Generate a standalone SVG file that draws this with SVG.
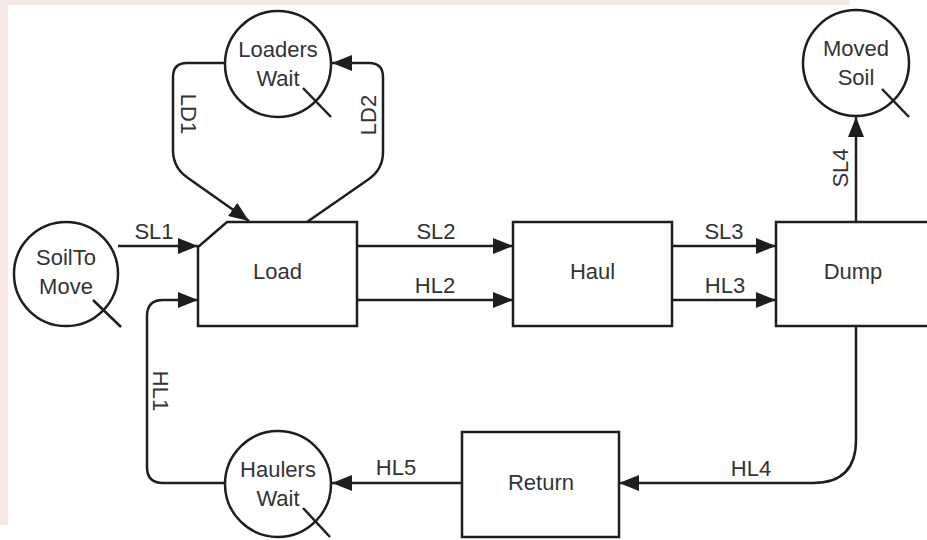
<svg xmlns="http://www.w3.org/2000/svg" width="927" height="540" viewBox="0 0 927 540">
<style>
.bg{fill:#ffffff}
.tint{fill:#f8e8e6}
.node{fill:#ffffff;stroke:#1e1e1e;stroke-width:2.5}
.strike{stroke:#1e1e1e;stroke-width:2.5;fill:none}
.conn{fill:none;stroke:#1e1e1e;stroke-width:2.5}
text{font-family:"Liberation Sans",Arial,sans-serif;font-size:22px;fill:#333333}
.c{text-anchor:middle}
</style>
<defs>
<marker id="arr" markerUnits="userSpaceOnUse" markerWidth="22" markerHeight="18" refX="20" refY="8" orient="auto">
<path d="M0,0 L20,8 L0,16 Z" fill="#1e1e1e"/>
</marker>
</defs>
<rect class="bg" x="0" y="0" width="927" height="540"/>
<rect class="tint" x="0" y="0" width="850" height="5"/>
<rect class="tint" x="0" y="0" width="8" height="525"/>

<g id="connectors">
<path class="conn" d="M118,246 H198" marker-end="url(#arr)"/>
<path class="conn" d="M357,246 H513" marker-end="url(#arr)"/>
<path class="conn" d="M357,300 H513" marker-end="url(#arr)"/>
<path class="conn" d="M672,246 H776" marker-end="url(#arr)"/>
<path class="conn" d="M672,300 H776" marker-end="url(#arr)"/>
<path class="conn" d="M856,222 V117" marker-end="url(#arr)"/>
<path class="conn" d="M856,326 V440 Q856,483 813,483 H619" marker-end="url(#arr)"/>
<path class="conn" d="M462,483 H332" marker-end="url(#arr)"/>
<path class="conn" d="M225,483 H163 Q147,483 147,467 V316 Q147,300 163,300 H198" marker-end="url(#arr)"/>
<path class="conn" d="M225,63 H187 Q173,63 173,77 V150 Q173,168 188,178 L249,221" marker-end="url(#arr)"/>
<path class="conn" d="M307,222 L369,179 Q383,169 383,152 V77 Q383,63 369,63 H332" marker-end="url(#arr)"/>
<text class="c" x="154" y="239">SL1</text>
<text class="c" x="436" y="239">SL2</text>
<text class="c" x="435" y="293">HL2</text>
<text class="c" x="724" y="239">SL3</text>
<text class="c" x="725" y="293">HL3</text>
<text class="c" transform="translate(848,168) rotate(-90)">SL4</text>
<text class="c" x="751" y="476">HL4</text>
<text class="c" x="396" y="475">HL5</text>
<text class="c" transform="translate(153,391) rotate(90)">HL1</text>
<text class="c" transform="translate(181,114) rotate(90)">LD1</text>
<text class="c" transform="translate(376,115) rotate(-90)">LD2</text>
</g>

<g id="load">
<path class="node" d="M227,222 H357 V326 H198 V247 Z"/>
<text class="c" x="277.5" y="279">Load</text>
</g>
<g id="haul">
<rect class="node" x="513" y="222" width="159" height="104"/>
<text class="c" x="592.5" y="279">Haul</text>
</g>
<g id="dump">
<rect class="node" x="776" y="222" width="160" height="104"/>
<text class="c" x="853" y="279">Dump</text>
</g>
<g id="return">
<rect class="node" x="462" y="432" width="157" height="105"/>
<text class="c" x="541" y="490">Return</text>
</g>
<g id="soiltomove">
<circle class="node" cx="66" cy="274" r="52"/>
<line class="strike" x1="93" y1="300" x2="121" y2="327"/>
<text class="c" x="66" y="265">SoilTo</text>
<text class="c" x="66" y="294">Move</text>
</g>
<g id="loaderswait">
<circle class="node" cx="278" cy="64" r="53"/>
<line class="strike" x1="303" y1="88" x2="331" y2="117"/>
<text class="c" x="278" y="57">Loaders</text>
<text class="c" x="278" y="86">Wait</text>
</g>
<g id="movedsoil">
<circle class="node" cx="856" cy="63" r="53"/>
<line class="strike" x1="882" y1="89" x2="909" y2="117"/>
<text class="c" x="856" y="56">Moved</text>
<text class="c" x="856" y="85">Soil</text>
</g>
<g id="haulerswait">
<circle class="node" cx="278" cy="484" r="53"/>
<line class="strike" x1="303" y1="508" x2="330" y2="537"/>
<text class="c" x="278" y="477">Haulers</text>
<text class="c" x="278" y="506">Wait</text>
</g>
</svg>
